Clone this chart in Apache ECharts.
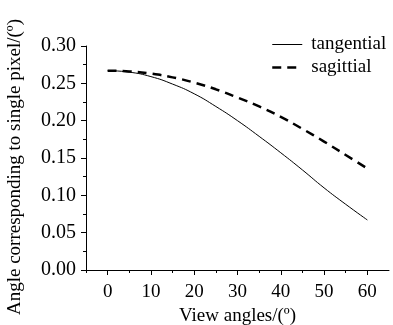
<!DOCTYPE html>
<html><head><meta charset="utf-8">
<script src="https://cdn.jsdelivr.net/npm/echarts@6/dist/echarts.min.js"></script>
<style>html,body{margin:0;padding:0;background:#fff}#c{width:393px;height:325px}</style>
</head><body><div id="c"></div>
<script>
const angles = [0, 5, 10, 15, 20, 25, 30, 35, 40, 45, 50, 55, 60];
const tangential = [0.267, 0.265, 0.259, 0.249, 0.236, 0.219, 0.200, 0.179, 0.157, 0.134, 0.110, 0.088, 0.067];
const sagittial = [0.267, 0.266, 0.263, 0.258, 0.251, 0.242, 0.231, 0.219, 0.205, 0.189, 0.172, 0.154, 0.136];
const xTicks = [0, 10, 20, 30, 40, 50, 60];
const xMinorTicks = [-5, 5, 15, 25, 35, 45, 55];
const yTitle = 'Angle corresponding to single pixel/(º)';
const xTitle = 'View angles/(º)';

const font = 'Liberation Serif';
const chart = echarts.init(document.getElementById('c'), null, {renderer: 'canvas'});
const axisLine = {show: true, onZero: false, lineStyle: {color: '#000', width: 1}};
chart.setOption({
  animation: false,
  backgroundColor: '#fff',
  grid: {left: 86, right: 4, top: 46, bottom: 55, containLabel: false, outerBoundsMode: 'none'},
  legend: {
    orient: 'vertical', left: 266, top: 30, itemWidth: 30, itemHeight: 14, itemGap: 4,
    itemStyle: {opacity: 0},
    textStyle: {fontFamily: font, fontSize: 19, color: '#000', padding: [0, 0, 0, 4]},
    data: [
      {name: 'tangential', lineStyle: {width: 1, color: '#000'}},
      {name: 'sagittial', lineStyle: {width: 2.5, color: '#000', type: [9, 6]}}
    ]
  },
  xAxis: [{
    type: 'value', min: -5, max: 65,
    axisLine: axisLine,
    axisTick: {show: true, customValues: xTicks, length: 5, lineStyle: {color: '#000'}},
    axisLabel: {customValues: xTicks, color: '#000', fontFamily: font, fontSize: 19, margin: 13},
    splitLine: {show: false},
    name: xTitle, nameLocation: 'middle', nameGap: 31,
    nameTextStyle: {fontFamily: font, fontSize: 19, color: '#000'}
  }, {
    type: 'value', min: -5, max: 65, position: 'bottom',
    axisLine: {show: false},
    axisTick: {show: true, customValues: xMinorTicks, length: 3, lineStyle: {color: '#000'}},
    axisLabel: {show: false}, splitLine: {show: false}
  }],
  yAxis: {
    type: 'value', min: 0, max: 0.30, interval: 0.05,
    axisLine: axisLine,
    axisTick: {show: true, length: 5, lineStyle: {color: '#000'}},
    minorTick: {show: true, splitNumber: 2, length: 3, lineStyle: {color: '#000'}},
    axisLabel: {color: '#000', fontFamily: font, fontSize: 20, margin: 10, formatter: v => v.toFixed(2)},
    splitLine: {show: false}
  },
  graphic: [{
    type: 'text', x: 15, y: 167, rotation: Math.PI / 2,
    style: {text: yTitle, fontFamily: font, fontSize: 19, fill: '#000', align: 'center', verticalAlign: 'middle'}
  }],
  series: [{
    name: 'tangential', type: 'line', smooth: true, symbol: 'none', xAxisIndex: 0,
    data: angles.map((a, i) => [a, tangential[i]]),
    itemStyle: {color: '#000'},
    lineStyle: {color: '#000', width: 1}
  }, {
    name: 'sagittial', type: 'line', smooth: true, symbol: 'none', xAxisIndex: 0,
    data: angles.map((a, i) => [a, sagittial[i]]),
    itemStyle: {color: '#000'},
    lineStyle: {color: '#000', width: 2.5, type: [9, 6]}
  }]
});
</script></body></html>
